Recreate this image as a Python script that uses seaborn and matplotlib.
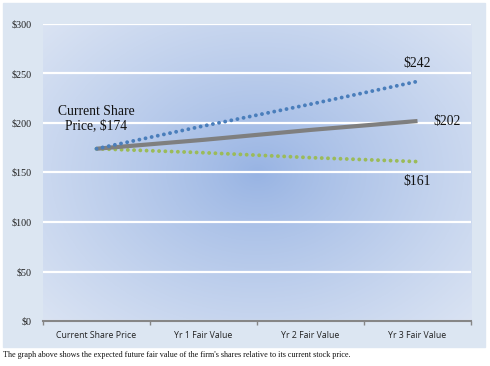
import numpy as np
import pandas as pd
import seaborn as sns
import matplotlib.pyplot as plt
from matplotlib.patches import Rectangle
from matplotlib.colors import to_rgb

#%% data
categories = ['Current Share Price', 'Yr 1 Fair Value', 'Yr 2 Fair Value', 'Yr 3 Fair Value']
high_case = [174, 197, 219, 242]
base_case = [174, 183, 193, 202]
low_case = [174, 170, 165, 161]
y_ticks = [0, 50, 100, 150, 200, 250, 300]
caption = "The graph above shows the expected future fair value of the firm's shares relative to its current stock price."

df = pd.DataFrame({'period': categories * 3,
                   'value': high_case + base_case + low_case,
                   'case': ['high'] * 4 + ['base'] * 4 + ['low'] * 4})

#%% figure
sns.set_theme(style='white')
fig = plt.figure(figsize=(4.9, 3.66), dpi=100)
fig.patch.set_facecolor('white')
fig.patches.append(Rectangle((3 / 490, 19 / 366), 482 / 490, 344 / 366,
                             transform=fig.transFigure, color='#dce6f2', zorder=-10))
ax = fig.add_axes([43 / 490, 45 / 366, 428 / 490, 297 / 366])

# radial gradient background
nx, ny = 300, 220
gx, gy = np.meshgrid(np.linspace(0, 1, nx), np.linspace(0, 1, ny))
r = np.sqrt(((gx - 0.5) / 0.55) ** 2 + ((gy - 0.5) / 0.6) ** 2) / np.sqrt(2)
r = np.clip(r, 0, 1) ** 0.85
c0 = np.array(to_rgb('#97b3e3'))
c1 = np.array(to_rgb('#e2e9f5'))
img = c0[None, None, :] * (1 - r[..., None]) + c1[None, None, :] * r[..., None]
ax.imshow(img, extent=[0, 1, 0, 1], transform=ax.transAxes, aspect='auto', zorder=0, origin='lower')

styles = {'high': dict(color='#4a7ebb', linestyle=(0, (0.01, 1.6)), linewidth=2.8),
          'base': dict(color='#7f7f7f', linestyle='-', linewidth=3.0),
          'low': dict(color='#9bbb59', linestyle=(0, (0.01, 1.6)), linewidth=2.8)}
for case in ['low', 'base', 'high']:
    sub = df[df['case'] == case]
    sns.lineplot(data=sub, x='period', y='value', ax=ax, sort=False,
                 dash_capstyle='round', solid_capstyle='butt', zorder=3, **styles[case])

ax.set_xlim(-0.5, 3.5)
ax.set_ylim(0, 300)
ax.set_yticks(y_ticks)
ax.set_yticklabels([f'${v}' for v in y_ticks], family='Liberation Serif', fontsize=7.3)
ax.set_xticks(range(4))
ax.set_xticklabels(categories, family='Open Sans', fontsize=6.3)
ax.set_xticks(np.arange(-0.5, 4, 1), minor=True)
ax.tick_params(axis='x', which='major', bottom=False, length=0, pad=7, colors='#222222')
ax.tick_params(axis='x', which='minor', bottom=True, length=3, width=1, color='#868686', direction='out')
ax.tick_params(axis='y', length=0, pad=8, colors='#222222')
ax.set_xlabel('')
ax.set_ylabel('')
ax.grid(axis='y', color='white', linewidth=1.6, zorder=1)
ax.set_axisbelow(True)
for s in ['top', 'right', 'left']:
    ax.spines[s].set_visible(False)
ax.spines['bottom'].set_color('#868686')
ax.spines['bottom'].set_linewidth(1.5)
ax.spines['bottom'].set_zorder(4)

#%% labels
tf = dict(family='Liberation Serif', fontsize=9.8, color='#111111')
ax.text(0, 191, 'Current Share\nPrice, $174', ha='center', va='bottom', linespacing=1.1, **tf)
ax.text(3, 254, '$242', ha='center', va='bottom', **tf)
ax.text(3.15, 202, '$202', ha='left', va='center', **tf)
ax.text(3, 147, '$161', ha='center', va='top', **tf)

fig.text(3 / 490, 1 - 355 / 366, caption, family='Liberation Serif', fontsize=5.9,
         ha='left', va='center', color='#111111')

plt.savefig('out.png', dpi=100)
